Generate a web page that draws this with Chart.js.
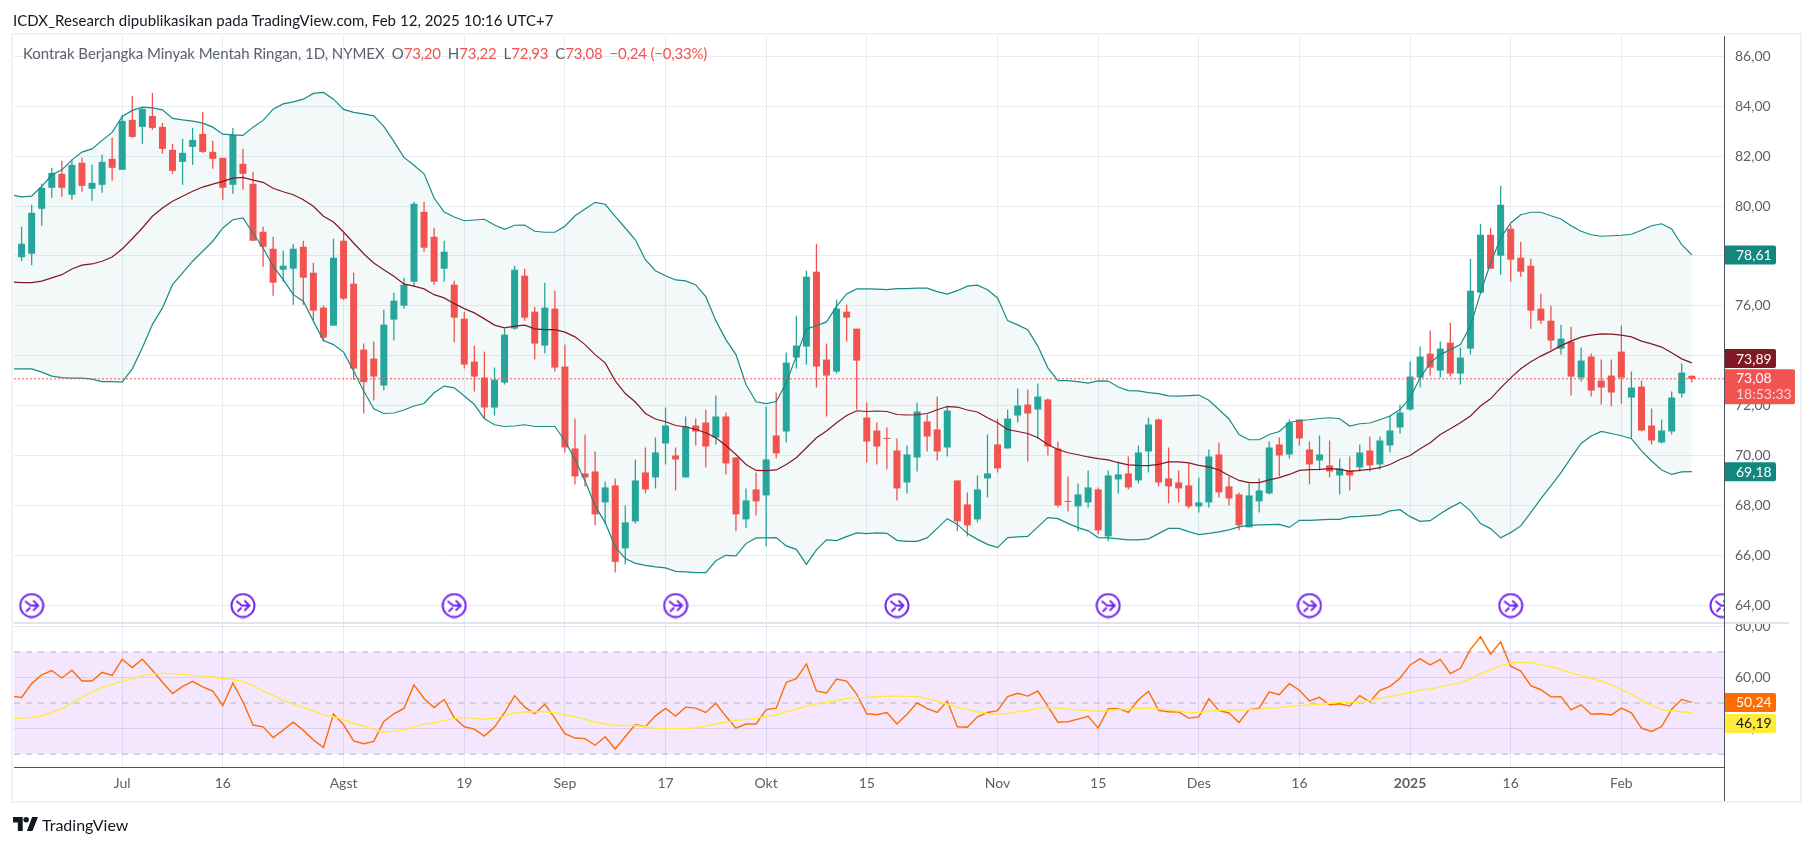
<!DOCTYPE html>
<html>
<head>
<meta charset="utf-8">
<title>Kontrak Berjangka Minyak Mentah Ringan</title>
<script src="https://cdn.jsdelivr.net/npm/chart.js@4"></script>
<style>
  html, body { margin: 0; padding: 0; background: #fff; overflow: hidden; }
  body { width: 1814px; height: 846px; position: relative; font-family: Lato, "Noto Sans", sans-serif; }
  canvas { position: absolute; left: 0; top: 0; }
  #frame { position: absolute; left: 11px; top: 33px; width: 1787px; height: 766px; border: 2px solid #f0f3f6; }
  #published { position: absolute; left: 13px; top: 11px; font-size: 15px; line-height: 18px; letter-spacing: 0.05px; color: #131722; white-space: nowrap; }
  #legend { position: absolute; left: 23px; top: 44px; font-size: 15px; line-height: 18px; letter-spacing: -0.05px; color: #5d606b; white-space: nowrap; }
  #legend b { font-weight: normal; color: #f05350; letter-spacing: -0.2px; }
  #legend span { margin-left: 7px; }
  #brand { position: absolute; left: 13px; top: 815px; font-size: 16px; line-height: 20px; color: #131722; white-space: nowrap; }
  #brand svg { position: absolute; left: 0; top: 2px; }
  #brand div { margin-left: 29px; }
</style>
</head>
<body>
<canvas id="chart" width="1814" height="846"></canvas>
<div id="frame"></div>
<div id="published">ICDX_Research dipublikasikan pada TradingView.com, Feb 12, 2025 10:16 UTC+7</div>
<div id="legend">Kontrak Berjangka Minyak Mentah Ringan, 1D, NYMEX<span>O<b>73,20</b></span><span>H<b>73,22</b></span><span>L<b>72,93</b></span><span>C<b>73,08</b></span><span><b>−0,24 (−0,33%)</b></span></div>
<div id="brand">
  <svg width="25" height="14" viewBox="0 0 36 20"><path fill="#131722" d="M14 0H0v8h7v12h7V0Zm14 20h-8L27.5 0H36L28 20ZM19 0a4 4 0 1 1 0 8 4 4 0 0 1 0-8Z"/></svg>
  <div>TradingView</div>
</div>
<script>
// candles, one per trading day
const opens = [77.95,78.09,79.89,80.73,81.29,80.45,81.73,80.69,80.85,81.89,81.45,83.45,83.17,83.61,83.17,82.25,81.77,82.37,82.89,82.17,81.93,80.85,81.69,80.89,78.97,78.29,77.45,77.49,78.37,77.33,75.93,75.21,78.61,76.89,74.25,73.89,72.81,75.45,76.01,76.97,79.77,78.77,77.49,76.85,75.49,73.77,73.13,71.93,72.93,75.09,77.21,75.77,74.41,75.89,73.57,70.29,69.29,69.37,68.13,68.81,66.29,67.37,69.33,69.13,70.49,70.01,69.13,71.21,71.33,70.73,71.57,69.93,67.45,68.65,68.41,70.81,70.97,73.93,74.37,77.37,73.85,73.37,75.77,75.09,71.53,71.01,70.71,70.21,68.93,69.93,71.37,71.05,70.33,69.01,68.05,67.45,69.09,70.45,70.29,71.61,72.05,71.85,72.25,70.29,68.17,67.97,68.13,68.65,66.77,69.05,69.29,69.01,70.17,71.45,69.09,68.93,68.81,67.97,68.13,70.05,68.77,68.45,67.13,68.17,68.49,70.45,70.05,71.45,70.25,69.81,69.61,69.21,69.41,69.53,70.21,69.65,70.41,71.13,71.85,73.13,74.09,73.41,74.53,73.29,74.29,76.53,78.85,78.01,79.09,77.93,77.61,75.89,75.41,74.29,74.57,73.13,73.97,73.01,73.21,74.17,72.33,72.77,71.21,70.53,70.97,72.49,73.20];
const highs = [79.17,80.05,80.89,81.53,81.81,81.85,81.93,81.65,82.05,82.73,83.65,84.41,83.97,84.53,83.33,82.49,82.69,83.13,83.77,82.61,81.93,83.13,82.29,81.37,79.17,78.77,78.21,78.49,78.61,77.73,76.01,78.69,78.93,77.33,74.49,74.57,75.85,76.53,77.13,80.17,80.17,79.13,78.61,77.01,75.77,74.41,74.17,73.53,75.09,77.61,77.49,75.97,76.93,76.61,74.45,71.49,70.85,70.17,68.97,69.09,68.01,69.85,70.33,70.73,71.93,70.33,71.57,71.49,71.85,72.41,71.73,69.93,68.69,69.33,71.97,72.53,74.13,75.61,77.41,78.49,74.49,76.25,76.05,75.09,72.13,71.33,71.13,70.69,70.41,72.13,71.65,72.37,72.01,69.01,68.53,69.21,70.85,71.49,71.85,72.69,72.65,72.89,72.29,70.57,69.17,68.89,69.41,68.73,69.41,69.77,69.97,70.41,71.53,71.49,70.33,69.41,69.69,69.13,70.25,70.53,69.17,68.53,68.89,69.09,70.57,70.73,71.45,71.45,70.57,70.81,70.61,69.89,69.97,70.45,70.77,70.77,71.61,72.05,73.77,74.37,75.01,74.57,75.33,74.33,77.89,79.29,79.13,80.81,79.25,78.57,77.89,76.49,76.01,75.25,75.17,74.33,74.09,73.85,73.85,75.21,73.37,73.01,71.89,71.45,72.57,73.69,73.22];
const lows = [77.79,77.63,79.21,80.33,80.37,80.25,80.57,80.21,80.53,81.01,81.45,82.73,82.49,83.05,82.09,81.29,80.85,81.65,82.13,81.49,80.25,80.49,80.65,78.61,77.57,76.41,76.97,76.05,76.05,75.43,74.57,75.21,76.23,73.03,71.69,72.21,72.61,74.61,75.89,76.77,78.17,76.85,76.97,74.53,73.49,72.57,71.49,71.61,72.85,75.05,75.41,73.85,74.09,73.37,70.13,68.85,68.77,67.21,67.25,65.32,65.65,67.29,68.49,68.69,69.65,68.61,69.13,70.41,69.53,70.45,69.25,66.97,67.09,67.61,66.37,69.89,70.53,73.49,73.65,72.73,71.57,73.29,74.57,71.85,69.73,69.65,69.45,68.21,68.49,69.37,70.17,69.81,69.97,66.97,66.77,67.33,68.33,69.33,70.29,71.33,69.77,70.69,70.01,67.93,67.77,66.97,67.93,66.85,66.57,68.49,68.65,68.89,69.33,68.77,68.09,68.13,67.89,67.73,67.93,68.33,68.01,67.01,67.13,67.73,68.45,69.17,69.89,70.41,68.85,69.41,69.13,68.45,68.61,69.37,69.37,69.45,70.13,70.89,71.81,72.73,73.21,73.13,73.17,72.85,74.05,76.53,77.49,77.25,76.97,77.17,75.09,75.29,74.25,74.05,72.41,72.97,72.37,72.05,71.97,72.09,70.69,70.97,70.45,70.49,70.85,72.33,72.93];
const closes = [78.49,79.73,80.73,81.33,80.73,81.65,80.81,80.93,81.77,81.53,83.41,82.77,83.89,83.13,82.29,81.41,82.13,82.65,82.17,81.89,80.73,82.85,81.29,78.61,78.37,76.93,77.61,78.29,77.13,75.81,74.73,77.93,76.29,73.49,72.95,73.17,75.25,76.21,76.85,80.09,78.33,76.97,78.17,75.53,73.65,73.17,71.93,73.05,74.85,77.45,75.53,74.49,75.93,73.53,70.33,69.17,69.13,67.65,68.73,65.75,67.33,69.01,68.65,70.13,71.21,69.85,71.17,70.97,70.37,71.57,69.69,67.65,68.21,68.17,69.85,70.09,73.73,74.41,77.17,73.57,73.21,75.89,75.53,73.81,70.57,70.37,70.67,68.69,70.05,71.77,70.77,70.17,71.81,67.37,67.21,68.65,69.29,69.49,71.49,72.01,71.69,72.37,70.37,68.01,68.15,68.45,68.73,67.01,69.21,69.25,68.73,70.13,71.25,68.93,68.77,68.69,67.97,68.13,69.97,68.53,68.29,67.21,68.41,68.61,70.33,70.01,71.33,70.69,69.65,70.05,69.37,69.49,69.21,70.13,69.61,70.61,71.01,71.73,73.17,73.97,73.53,74.29,73.29,73.93,76.61,78.85,77.49,80.05,77.85,77.37,75.81,75.41,74.61,74.69,73.17,73.81,72.61,72.73,72.53,73.13,72.73,71.01,70.61,71.01,72.33,73.33,73.08];

// bollinger bands; the first value belongs to the bar just off the left edge
const bbUpper = [80.45,80.37,80.40,80.79,81.24,81.45,81.85,82.16,82.29,82.63,82.95,83.59,83.83,83.96,83.93,83.85,83.51,83.45,83.40,83.32,83.16,82.88,82.85,82.83,83.16,83.43,83.88,84.09,84.17,84.28,84.51,84.55,84.28,83.87,83.75,83.69,83.61,83.19,82.59,81.95,81.63,81.29,80.32,79.76,79.56,79.41,79.44,79.47,79.24,79.07,79.23,79.24,78.99,78.95,78.95,79.19,79.61,79.88,80.15,80.07,79.59,79.12,78.65,77.85,77.41,77.21,77.04,77.00,76.84,76.37,75.41,74.65,74.05,72.85,72.16,72.09,72.17,72.92,73.99,75.08,75.21,75.36,75.99,76.48,76.68,76.68,76.67,76.65,76.69,76.69,76.71,76.71,76.57,76.47,76.61,76.79,76.83,76.65,76.32,75.41,75.24,75.05,74.39,73.52,73.01,73.01,72.97,72.91,73.00,72.99,72.75,72.61,72.60,72.53,72.49,72.40,72.39,72.41,72.43,72.22,71.85,71.47,70.85,70.64,70.64,70.85,70.97,71.33,71.41,71.44,71.49,71.52,71.48,71.19,71.28,71.31,71.44,71.59,71.85,72.32,73.12,73.72,74.05,74.25,74.45,75.19,76.52,77.72,78.72,79.32,79.65,79.75,79.75,79.61,79.48,79.21,78.99,78.85,78.79,78.81,78.83,78.87,79.03,79.21,79.29,79.08,78.45,78.05];
const bbBasis = [76.96,76.93,76.93,76.99,77.12,77.25,77.48,77.63,77.68,77.79,77.96,78.28,78.69,79.12,79.59,79.92,80.19,80.39,80.59,80.76,80.88,80.99,81.12,81.15,81.04,80.95,80.71,80.57,80.45,80.25,79.99,79.59,79.36,78.96,78.52,78.09,77.72,77.45,77.19,76.88,76.79,76.68,76.45,76.32,76.09,75.89,75.72,75.48,75.23,75.12,75.19,75.23,75.08,75.05,75.05,74.95,74.76,74.45,74.05,73.72,73.00,72.49,72.15,71.69,71.47,71.36,71.21,71.16,71.05,70.92,70.72,70.41,70.05,69.65,69.41,69.40,69.43,69.65,69.92,70.32,70.72,70.99,71.32,71.61,71.80,71.77,71.79,71.77,71.65,71.63,71.64,71.69,71.84,71.97,71.95,71.83,71.75,71.52,71.32,71.05,70.97,70.89,70.72,70.45,70.25,70.12,70.04,69.95,69.88,69.83,69.72,69.63,69.61,69.60,69.65,69.75,69.75,69.71,69.61,69.55,69.43,69.21,69.01,68.92,68.92,69.03,69.12,69.25,69.41,69.44,69.45,69.48,69.45,69.37,69.41,69.45,69.52,69.65,69.85,70.01,70.28,70.52,70.85,71.08,71.32,71.59,71.99,72.28,72.72,73.12,73.48,73.76,73.99,74.19,74.41,74.59,74.75,74.83,74.88,74.87,74.83,74.76,74.59,74.48,74.35,74.12,73.88,73.72];
const bbLower = [73.48,73.48,73.48,73.35,73.19,73.13,73.11,73.11,73.07,72.97,72.97,72.95,73.48,74.32,75.25,75.92,76.85,77.32,77.79,78.19,78.59,79.12,79.45,79.52,78.92,78.32,77.59,77.05,76.45,76.19,75.39,74.61,74.45,74.15,73.39,72.59,71.88,71.69,71.71,71.83,71.99,72.09,72.52,72.79,72.72,72.39,72.05,71.48,71.24,71.17,71.19,71.24,71.17,71.17,71.17,70.59,69.85,68.99,67.99,67.32,66.35,65.88,65.69,65.61,65.55,65.51,65.37,65.35,65.32,65.32,65.79,66.01,65.99,66.48,66.71,66.71,66.72,66.39,66.25,65.65,66.23,66.63,66.60,66.76,66.91,66.88,66.91,66.89,66.61,66.57,66.57,66.71,67.09,67.48,67.25,66.88,66.65,66.45,66.32,66.72,66.75,66.77,67.15,67.52,67.48,67.29,67.12,66.99,66.72,66.71,66.67,66.63,66.63,66.67,66.88,67.09,67.09,66.96,66.84,66.89,66.95,67.03,67.15,67.21,67.23,67.24,67.25,67.13,67.41,67.41,67.43,67.45,67.45,67.55,67.57,67.60,67.63,67.79,67.84,67.56,67.37,67.40,67.68,67.92,68.13,67.79,67.28,67.08,66.71,66.92,67.19,67.72,68.28,68.79,69.32,69.92,70.49,70.79,70.97,70.89,70.80,70.68,70.19,69.79,69.43,69.25,69.35,69.36];

// RSI and its moving average, same bars as the bands
const rsi = [52.7,52.2,57.6,61.0,62.7,59.8,62.8,58.6,58.6,62.0,60.8,67.1,63.9,67.1,62.8,58.1,53.7,56.5,58.5,56.3,54.7,49.0,57.8,50.5,41.4,40.7,36.5,39.4,42.5,39.3,35.6,32.6,45.7,41.5,35.2,34.1,35.0,42.8,45.8,47.9,57.1,51.8,48.2,51.4,44.2,40.7,39.8,37.1,40.6,46.2,52.9,48.4,45.9,49.5,44.1,38.0,36.3,36.1,33.5,36.8,32.0,36.9,41.6,40.7,45.0,47.9,44.9,48.4,48.0,46.3,49.9,44.8,40.2,41.8,41.8,47.4,48.0,58.1,59.5,65.3,54.7,53.9,59.4,58.6,53.5,45.8,45.4,46.3,41.8,45.6,50.1,47.8,46.3,50.8,40.7,40.5,44.6,46.3,47.0,52.5,53.8,52.7,54.7,48.7,42.5,42.7,43.7,44.8,40.2,47.8,47.9,46.3,51.3,54.6,47.1,46.6,46.5,44.1,44.6,51.7,47.0,46.1,42.4,47.4,48.0,54.4,53.3,57.6,55.0,50.8,52.2,49.3,49.7,48.8,52.9,50.5,55.0,56.5,59.7,64.9,67.3,64.9,67.1,61.5,63.6,71.0,75.9,69.1,73.9,64.4,62.5,56.8,55.2,52.4,52.5,47.3,49.3,45.6,45.8,45.3,48.0,46.2,40.2,38.9,40.8,47.6,51.4,50.24];
const rsiMa = [43.7,44.1,44.4,45.0,46.3,47.8,50.0,52.4,54.3,56.0,57.3,58.5,59.5,60.6,61.4,61.6,61.5,61.2,60.8,60.6,60.2,59.5,59.2,58.4,56.8,54.8,52.9,51.0,49.6,48.3,47.0,45.3,44.6,43.5,42.0,41.0,39.7,38.6,38.9,39.4,40.8,41.8,42.2,43.2,43.9,44.4,44.0,43.7,44.0,44.9,46.1,46.6,46.6,46.6,46.3,45.4,44.6,43.6,42.5,41.9,41.2,41.2,41.2,40.7,40.2,40.1,40.1,40.1,40.3,41.0,41.9,42.5,43.2,43.5,44.0,44.8,45.4,46.6,47.6,48.8,49.6,50.1,50.9,51.8,52.1,52.2,52.5,52.7,52.7,52.6,52.6,51.7,50.7,49.5,48.4,47.5,46.6,45.9,45.7,45.9,46.6,47.1,48.0,48.3,48.0,47.6,47.4,47.0,46.9,47.0,47.6,47.6,47.9,48.0,47.6,47.3,46.9,46.3,46.2,46.9,47.1,47.3,47.3,47.4,47.6,48.0,48.2,48.6,49.0,49.2,49.5,49.9,50.3,50.3,50.4,51.0,51.8,52.5,53.3,54.2,55.1,55.5,56.3,57.1,58.0,59.5,61.4,62.9,64.6,65.7,65.9,65.8,65.0,64.1,63.1,61.8,60.7,59.7,58.6,57.1,55.2,53.5,51.0,49.0,47.5,47.0,46.6,46.19];

// axis ticks
const timeTickBars = [10,20,32,44,54,64,74,84,97,107,117,127,138,148,159];
const timeTickLabels = ['Jul','16','Agst','19','Sep','17','Okt','15','Nov','15','Des','16','2025','16','Feb'];
const priceTicks = [86,84,82,80,78,76,74,72,70,68,66,64];
const rsiTicks = [80,60,40];
const rsiBands = [70,50,30];
const lastPrice = 73.08;

// purple event markers along the bottom of the price pane
const eventBars = [1,22,43,65,87,108,128,148,169];
const eventLevel = 64;

// value tags on the axis: where each sits and what it says
const priceTagLevels = [78.04,73.89,69.36];
const priceTagTexts = ['78,61','73,89','69,18'];
const priceTagColors = ['#138680','#801922','#138680'];
const rsiTagLevels = [50.24,42.0];
const rsiTagTexts = ['50,24','46,19'];
const rsiTagColors = ['#ff6d00','#ffeb3b'];
const rsiTagInk = ['#ffffff','#131722'];
const countdown = '18:53:33';

const UP = '#26a69a', DOWN = '#f05350', TEAL = '#178c85';
const AXIS_FONT = 'Lato, "Noto Sans", sans-serif';
const XMIN = -0.755, XMAX = 169.2;

const bars = opens.map((o, i) => i);
const candleColors = opens.map((o, i) => closes[i] >= o ? UP : DOWN);
const onBars = (arr) => arr.map((v, i) => ({ x: i - 1, y: v }));
const flat = (v) => [{ x: XMIN, y: v }, { x: XMAX, y: v }];
const comma = (v) => v.toFixed(2).replace('.', ',');

function eventIcon() {
  const c = document.createElement('canvas');
  c.width = 26; c.height = 26;
  const g = c.getContext('2d');
  g.strokeStyle = '#7326f2';
  g.fillStyle = '#fff';
  g.lineWidth = 2;
  g.lineCap = 'round';
  g.beginPath(); g.arc(13, 13, 11.5, 0, Math.PI * 2); g.fill(); g.stroke();
  g.beginPath();
  g.moveTo(7, 9); g.lineTo(12, 13); g.lineTo(19, 13);
  g.moveTo(15, 8.5); g.lineTo(19.5, 13); g.lineTo(15, 17.5);
  g.moveTo(11, 15.5); g.lineTo(8, 18.5);
  g.stroke();
  return c;
}

// draws the pane divider, the axis lines and the coloured value tags
const paneDecor = {
  id: 'paneDecor',
  afterDraw(chart) {
    const g = chart.ctx;
    const { y, rsiAxis, x } = chart.scales;
    const axisX = x.right;

    g.save();
    g.fillStyle = '#fff';
    g.fillRect(axisX + 1, rsiAxis.top - 9, 74, 9);
    g.fillStyle = '#e0e3eb';
    g.fillRect(x.left, rsiAxis.top - 1, 1787 - 13 + 1, 2);
    g.fillStyle = '#50535e';
    g.fillRect(axisX, y.top, 1, 802 - y.top);
    g.fillRect(x.left, rsiAxis.bottom, axisX - x.left, 1);

    g.textBaseline = 'middle';
    g.textAlign = 'left';
    const tag = (cy, text, bg, ink) => {
      g.fillStyle = bg;
      g.beginPath();
      g.roundRect(axisX + 1, cy - 9.5, 51, 19, [0, 2, 2, 0]);
      g.fill();
      g.fillStyle = ink;
      g.font = '14px ' + AXIS_FONT;
      g.fillText(text, axisX + 12, cy + 0.5);
    };
    priceTagLevels.forEach((v, i) => tag(y.getPixelForValue(v), priceTagTexts[i], priceTagColors[i], '#fff'));
    rsiTagLevels.forEach((v, i) => tag(rsiAxis.getPixelForValue(v), rsiTagTexts[i], rsiTagColors[i], rsiTagInk[i]));

    const py = y.getPixelForValue(lastPrice);
    g.fillStyle = DOWN;
    g.beginPath();
    g.roundRect(axisX + 1, py - 9.5, 70, 35, [0, 2, 2, 0]);
    g.fill();
    g.fillStyle = '#fff';
    g.fillText(comma(lastPrice), axisX + 12, py);
    g.fillStyle = 'rgba(255,255,255,0.75)';
    g.fillText(countdown, axisX + 12, py + 16);
    g.restore();
  }
};

const lineBase = { type: 'line', pointRadius: 0, tension: 0, spanGaps: false };

new Chart(document.getElementById('chart'), {
  type: 'bar',
  plugins: [paneDecor],
  data: {
    datasets: [
      { ...lineBase, data: eventBars.map((b) => ({ x: b, y: eventLevel })), yAxisID: 'y', showLine: false, pointRadius: 13, pointStyle: eventIcon() },
      { ...lineBase, data: onBars(rsiMa), yAxisID: 'rsiAxis', borderColor: '#ffeb3b', borderWidth: 1.4 },
      { ...lineBase, data: onBars(rsi), yAxisID: 'rsiAxis', borderColor: '#ff6d00', borderWidth: 1.4 },
      // fill runs down to the 30 line, dataset index 5
      { ...lineBase, data: flat(rsiBands[0]), yAxisID: 'rsiAxis', borderColor: '#b4b4be', borderWidth: 1, borderDash: [6, 6], fill: { target: 5 }, backgroundColor: 'rgba(145,5,235,0.1)' },
      { ...lineBase, data: flat(rsiBands[1]), yAxisID: 'rsiAxis', borderColor: '#b4b4be', borderWidth: 1, borderDash: [6, 6] },
      { ...lineBase, data: flat(rsiBands[2]), yAxisID: 'rsiAxis', borderColor: '#b4b4be', borderWidth: 1, borderDash: [6, 6] },
      { ...lineBase, data: flat(lastPrice), yAxisID: 'y', borderColor: DOWN, borderWidth: 1, borderDash: [2, 2] },
      { ...lineBase, data: onBars(bbBasis), yAxisID: 'y', borderColor: '#801922', borderWidth: 1.2 },
      { ...lineBase, data: onBars(bbUpper), yAxisID: 'y', borderColor: TEAL, borderWidth: 1.2, fill: '+1', backgroundColor: 'rgba(34,140,130,0.055)' },
      { ...lineBase, data: onBars(bbLower), yAxisID: 'y', borderColor: TEAL, borderWidth: 1.2 },
      // candle bodies, then wicks
      { data: bars.map((i) => ({ x: i, y: [opens[i], closes[i]] })), yAxisID: 'y', backgroundColor: candleColors, barThickness: 7, grouped: false, inflateAmount: 0, minBarLength: 1 },
      { data: bars.map((i) => ({ x: i, y: [lows[i], highs[i]] })), yAxisID: 'y', backgroundColor: candleColors, barThickness: 1.3, grouped: false, inflateAmount: 0 }
    ]
  },
  options: {
    responsive: false,
    animation: false,
    events: [],
    layout: { padding: { left: 13, top: 36, right: 14, bottom: 44 } },
    plugins: {
      legend: { display: false },
      tooltip: { enabled: false },
      filler: { drawTime: 'beforeDatasetsDraw', propagate: false }
    },
    scales: {
      x: {
        type: 'linear',
        min: XMIN,
        max: XMAX,
        offset: false,
        afterBuildTicks(scale) { scale.ticks = timeTickBars.map((b) => ({ value: b })); },
        afterFit(scale) { scale.height = 35; },
        grid: { color: '#e4edf3', lineWidth: 1, offset: false, drawTicks: false },
        border: { display: false },
        ticks: {
          autoSkip: false,
          maxRotation: 0,
          padding: 8,
          color: '#5d606b',
          font: (ctx) => ({ family: AXIS_FONT, size: 14, weight: timeTickLabels[ctx.index] === '2025' ? 'bold' : 'normal' }),
          callback: (v, i) => timeTickLabels[i]
        }
      },
      y: {
        position: 'right',
        stack: 'panes',
        stackWeight: 587,
        min: 63.3,
        max: 86.81,
        afterBuildTicks(scale) { scale.ticks = priceTicks.map((v) => ({ value: v })); },
        afterFit(scale) { scale.width = 76; },
        grid: { color: '#e4edf3', drawTicks: false },
        border: { display: false },
        ticks: { padding: 11, color: '#5d606b', font: { family: AXIS_FONT, size: 14 }, callback: (v) => comma(v) }
      },
      rsiAxis: {
        position: 'right',
        stack: 'panes',
        stackWeight: 144,
        min: 24.98,
        max: 81.3,
        afterBuildTicks(scale) { scale.ticks = rsiTicks.map((v) => ({ value: v })); },
        afterFit(scale) { scale.width = 76; },
        grid: { color: 'rgba(160,150,220,0.28)', drawTicks: false },
        border: { display: false },
        ticks: { padding: 11, color: '#5d606b', font: { family: AXIS_FONT, size: 14 }, callback: (v) => comma(v) }
      }
    }
  }
});
</script>
</body>
</html>
